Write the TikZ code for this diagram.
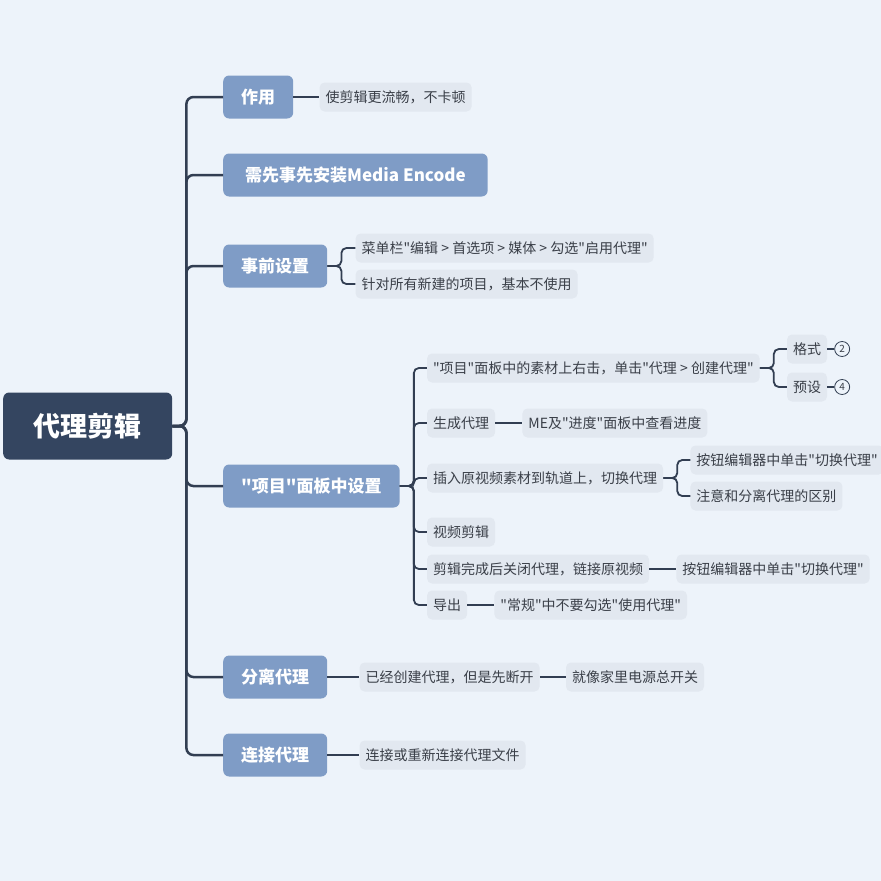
\documentclass[tikz,border=0pt]{standalone}
\usepackage{fontspec}
\usetikzlibrary{positioning}
\setmainfont{Noto Sans CJK SC}[Ligatures=TeXOff]
\definecolor{pagebg}{HTML}{EDF3FA}
\definecolor{rootfill}{HTML}{344560}
\definecolor{topicfill}{HTML}{7F9CC6}
\definecolor{leaffill}{HTML}{E2E8F0}
\definecolor{leaftext}{HTML}{3A3F48}
\definecolor{linedark}{HTML}{323E52}
\begin{document}
\begin{tikzpicture}[
  x=1pt, y=-1pt,
  root/.style={fill=rootfill, text=white, rounded corners=6pt, font=\fontsize{27}{30}\selectfont\bfseries,
    minimum width=169pt, minimum height=67pt},
  topic/.style={fill=topicfill, text=white, rounded corners=6pt, font=\fontsize{17}{20}\selectfont\bfseries,
    inner xsep=18pt, minimum height=43pt},
  leaf/.style={fill=leaffill, text=leaftext, rounded corners=5pt, font=\fontsize{14}{17}\selectfont,
    inner xsep=6pt, minimum height=29pt},
  badge/.style={circle, draw=linedark, thick, text=leaftext, font=\fontsize{10}{11}\selectfont,
    inner sep=0pt, minimum size=15pt},
  link/.style={draw=linedark, line width=2.5pt, rounded corners=7pt},
  sublink/.style={draw=linedark, line width=1.8pt, rounded corners=5pt},
]
\fill[pagebg] (0,0) rectangle (881,881);
\useasboundingbox (0,0) rectangle (881,881);

% root and main topics
\node[root, anchor=west] (zhu) at (3,426) {代理剪辑};
\node[topic, anchor=west] (zuoyong) at (223,97) {作用};
\node[topic, anchor=west, inner xsep=22pt] (anzhuang) at (223,175) {需先事先安装Media Encode};
\node[topic, anchor=west] (shiqian) at (223,266) {事前设置};
\node[topic, anchor=west] (xiangmu) at (223,486) {"项目"面板中设置};
\node[topic, anchor=west] (fenli) at (223,677) {分离代理};
\node[topic, anchor=west] (lianjie) at (223,755) {连接代理};
\foreach \t in {zuoyong,anzhuang,shiqian,xiangmu,fenli,lianjie}
  \draw[link] (zhu.east) -- ++(14,0) |- (\t.west);

% 作用
\node[leaf, right=26pt of zuoyong] (liuchang) {使剪辑更流畅，不卡顿};
\draw[sublink] (zuoyong.east) -- (liuchang.west);

% 事前设置
\coordinate (bshiqian) at ([xshift=14pt]shiqian.east);
\node[leaf, anchor=west, xshift=14pt] (caidan) at (bshiqian |- 0,248) {菜单栏"编辑\ > 首选项\ > 媒体\ > 勾选"启用代理"};
\node[leaf, anchor=west, xshift=14pt] (xinjian) at (bshiqian |- 0,284) {针对所有新建的项目，基本不使用};
\foreach \c in {caidan,xinjian}
  \draw[sublink] (shiqian.east) -- (bshiqian) |- (\c.west);

% "项目"面板中设置
\coordinate (bxiangmu) at ([xshift=14pt]xiangmu.east);
\node[leaf, anchor=west, xshift=13pt] (youji) at (bxiangmu |- 0,368) {"项目"面板中的素材上右击，单击"代理\ > 创建代理"};
\node[leaf, anchor=west, xshift=13pt] (shengcheng) at (bxiangmu |- 0,423) {生成代理};
\node[leaf, anchor=west, xshift=13pt] (charu) at (bxiangmu |- 0,478) {插入原视频素材到轨道上，切换代理};
\node[leaf, anchor=west, xshift=13pt] (jianji) at (bxiangmu |- 0,532) {视频剪辑};
\node[leaf, anchor=west, xshift=13pt] (guanbi) at (bxiangmu |- 0,569) {剪辑完成后关闭代理，链接原视频};
\node[leaf, anchor=west, xshift=13pt] (daochu) at (bxiangmu |- 0,605) {导出};
\foreach \c in {youji,shengcheng,charu,jianji,guanbi,daochu}
  \draw[sublink] (xiangmu.east) -- (bxiangmu) |- (\c.west);

% right click -> create proxy
\coordinate (byouji) at ([xshift=14pt]youji.east);
\node[leaf, anchor=west, xshift=13pt] (geshi) at (byouji |- 0,349) {格式};
\node[leaf, anchor=west, xshift=13pt] (yushe) at (byouji |- 0,387) {预设};
\foreach \c in {geshi,yushe}
  \draw[sublink] (youji.east) -- (byouji) |- (\c.west);
\node[badge, right=7pt of geshi] (geshinum) {2};
\node[badge, right=7pt of yushe] (yushenum) {4};
\draw[sublink] (geshi.east) -- (geshinum.west);
\draw[sublink] (yushe.east) -- (yushenum.west);

% generate proxy
\node[leaf, right=27pt of shengcheng] (jindu) {ME及"进度"面板中查看进度};
\draw[sublink] (shengcheng.east) -- (jindu.west);

% insert and toggle
\coordinate (bcharu) at ([xshift=14pt]charu.east);
\node[leaf, anchor=west, xshift=13pt] (qiehuan) at (bcharu |- 0,460) {按钮编辑器中单击"切换代理"};
\node[leaf, anchor=west, xshift=13pt] (qubie) at (bcharu |- 0,496) {注意和分离代理的区别};
\foreach \c in {qiehuan,qubie}
  \draw[sublink] (charu.east) -- (bcharu) |- (\c.west);

% close proxy
\node[leaf, right=27pt of guanbi] (qiehuanb) {按钮编辑器中单击"切换代理"};
\draw[sublink] (guanbi.east) -- (qiehuanb.west);

% export
\node[leaf, right=27pt of daochu] (changgui) {"常规"中不要勾选"使用代理"};
\draw[sublink] (daochu.east) -- (changgui.west);

% detach proxy
\node[leaf, right=32pt of fenli] (duankai) {已经创建代理，但是先断开};
\node[leaf, right=26pt of duankai] (kaiguan) {就像家里电源总开关};
\draw[sublink] (fenli.east) -- (duankai.west);
\draw[sublink] (duankai.east) -- (kaiguan.west);

% attach proxy
\node[leaf, right=32pt of lianjie] (wenjian) {连接或重新连接代理文件};
\draw[sublink] (lianjie.east) -- (wenjian.west);
\end{tikzpicture}
\end{document}
